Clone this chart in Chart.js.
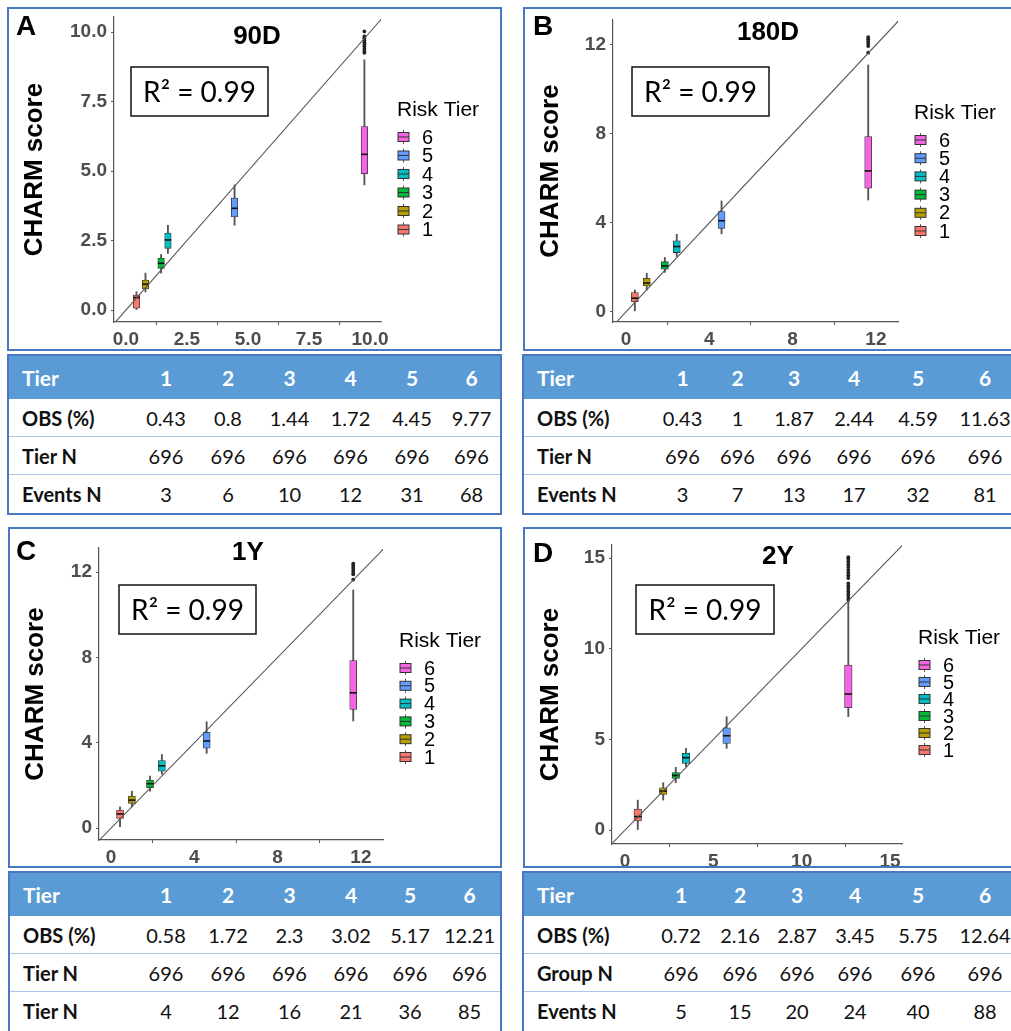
<!DOCTYPE html>
<html>
<head>
<meta charset="utf-8">
<script src="https://cdn.jsdelivr.net/npm/chart.js@4.4.1/dist/chart.umd.min.js"></script>
<style>
    html, body { margin: 0; padding: 0; background: #fff; }
    body { width: 1011px; height: 1031px; overflow: hidden; position: relative; }
    .box { position: absolute; border: 2px solid #4a76c6; box-sizing: border-box; background: #fff; overflow: hidden; }
    .box canvas { position: absolute; left: 0; top: 0; }
    table { border-collapse: collapse; table-layout: fixed; font-family: Lato, "Open Sans", sans-serif; font-size: 20px; color: #111; }
    th { background: #5b9bd5; color: #fff; font-weight: bold; font-size: 21px; height: 43px; padding: 0; text-align: center; }
    td { height: 37px; padding: 0; border-bottom: 1.5px solid #a9c7e8; text-align: center; }
    th:first-child, td:first-child { text-align: left; padding-left: 13px; font-weight: bold; }
    tr:last-child td { border-bottom: none; }
</style>
</head>
<body>

<div class="box" style="left:7px;top:7px;width:495px;height:344px"><canvas id="chartA" width="491" height="340"></canvas></div>
<div class="box" id="tableA" style="left:7px;top:354px;width:495px;height:161px"></div>
<div class="box" style="left:523px;top:7px;width:500px;height:344px"><canvas id="chartB" width="496" height="340"></canvas></div>
<div class="box" id="tableB" style="left:522px;top:354px;width:500px;height:161px"></div>
<div class="box" style="left:8px;top:527px;width:494px;height:341px"><canvas id="chartC" width="490" height="337"></canvas></div>
<div class="box" id="tableC" style="left:8px;top:871px;width:494px;height:170px"></div>
<div class="box" style="left:523px;top:527px;width:500px;height:341px"><canvas id="chartD" width="496" height="337"></canvas></div>
<div class="box" id="tableD" style="left:522px;top:871px;width:500px;height:170px"></div>

<script>
// ---- shared ----
const tiers = ['1', '2', '3', '4', '5', '6'];
const tierColors = ['#F8766D', '#B79F00', '#00BA38', '#00BFC4', '#619CFF', '#F564E3'];
const identityLine = [-1, 20]; // y = x reference line

// ---- 90D ----
const x90 = [0.43, 0.8, 1.44, 1.72, 4.45, 9.77];
const lo90 = [0.0, 0.65, 1.33, 2.04, 3.05, 4.5];
const q1_90 = [0.07, 0.76, 1.5, 2.22, 3.35, 4.9];
const med90 = [0.45, 0.93, 1.68, 2.52, 3.66, 5.6];
const q3_90 = [0.54, 1.08, 1.87, 2.77, 4.03, 6.6];
const hi90 = [0.66, 1.33, 2.0, 3.05, 4.5, 9.0];
const out90 = [9.25, 9.32, 9.4, 9.48, 9.55, 9.62, 9.7, 9.78, 9.84, 10.02];
const ticks90 = ['0.0', '2.5', '5.0', '7.5', '10.0'];

// ---- 180D ----
const x180 = [0.43, 1.0, 1.87, 2.44, 4.59, 11.63];
const lo180 = [0.05, 0.99, 1.78, 2.49, 3.51, 5.03];
const q1_180 = [0.46, 1.17, 1.92, 2.67, 3.76, 5.56];
const med180 = [0.62, 1.3, 2.07, 2.94, 4.1, 6.34];
const q3_180 = [0.87, 1.51, 2.26, 3.2, 4.51, 7.88];
const hi180 = [0.99, 1.74, 2.45, 3.49, 4.99, 11.1];
const out180 = [11.65, 11.95, 12.05, 12.15, 12.25, 12.35];
const ticks180 = ['0', '4', '8', '12'];

// ---- 1Y ----
const x1y = [0.43, 1.0, 1.87, 2.44, 4.59, 11.63];
const lo1y = [0.06, 1.0, 1.73, 2.52, 3.5, 5.02];
const q1_1y = [0.45, 1.16, 1.89, 2.67, 3.74, 5.56];
const med1y = [0.66, 1.31, 2.08, 2.92, 4.08, 6.34];
const q3_1y = [0.84, 1.5, 2.25, 3.16, 4.49, 7.85];
const hi1y = [1.0, 1.73, 2.44, 3.45, 4.98, 11.16];
const out1y = [11.65, 11.9, 12.0, 12.1, 12.2, 12.3, 12.4];
const ticks1y = ['0', '4', '8', '12'];

// ---- 2Y ----
const x2y = [0.72, 2.16, 2.87, 3.45, 5.75, 12.64];
const lo2y = [0.0, 1.65, 2.61, 3.49, 4.5, 6.25];
const q1_2y = [0.5, 1.96, 2.84, 3.68, 4.78, 6.75];
const med2y = [0.74, 2.15, 3.01, 3.99, 5.2, 7.5];
const q3_2y = [1.16, 2.33, 3.17, 4.23, 5.64, 9.1];
const hi2y = [1.65, 2.61, 3.46, 4.5, 6.25, 12.6];
const out2y = [12.7, 12.85, 13.0, 13.15, 13.3, 13.45, 13.6, 13.9, 14.05, 14.2, 14.35, 14.5, 14.65, 14.8, 14.95, 15.05];
const ticks2y = ['0', '5', '10', '15'];

// ---- tables ----
const obsA = ['0.43', '0.8', '1.44', '1.72', '4.45', '9.77'];
const nA = ['696', '696', '696', '696', '696', '696'];
const evA = ['3', '6', '10', '12', '31', '68'];
const rowsA = ['OBS (%)', 'Tier N', 'Events N'];

const obsB = ['0.43', '1', '1.87', '2.44', '4.59', '11.63'];
const nB = ['696', '696', '696', '696', '696', '696'];
const evB = ['3', '7', '13', '17', '32', '81'];
const rowsB = ['OBS (%)', 'Tier N', 'Events N'];

const obsC = ['0.58', '1.72', '2.3', '3.02', '5.17', '12.21'];
const nC = ['696', '696', '696', '696', '696', '696'];
const evC = ['4', '12', '16', '21', '36', '85'];
const rowsC = ['OBS (%)', 'Tier N', 'Tier N'];

const obsD = ['0.72', '2.16', '2.87', '3.45', '5.75', '12.64'];
const nD = ['696', '696', '696', '696', '696', '696'];
const evD = ['5', '15', '20', '24', '40', '88'];
const rowsD = ['OBS (%)', 'Group N', 'Events N'];

const FONT = '"Liberation Sans", Arial, sans-serif';

// Draws panel letter, title, R² box and the "Risk Tier" legend
const panelDecor = {
    id: 'panelDecor',
    afterDraw(chart, args, o) {
        const ctx = chart.ctx;
        const a = chart.chartArea;
        ctx.save();
        ctx.fillStyle = '#000';
        ctx.textBaseline = 'middle';

        ctx.textAlign = 'left';
        ctx.font = 'bold 28px ' + FONT;
        ctx.fillText(o.letter, o.letterPos[0], o.letterPos[1]);

        ctx.textAlign = 'center';
        ctx.font = 'bold 26px ' + FONT;
        ctx.fillText(o.title, o.titlePos[0], o.titlePos[1]);

        const [bx, by, bw, bh] = o.r2Box;
        ctx.strokeStyle = '#111';
        ctx.lineWidth = 1.5;
        ctx.strokeRect(bx, by, bw, bh);
        ctx.font = '28px Lato, "Open Sans", sans-serif';
        ctx.fillText('R\u00B2 = 0.99', bx + bw / 2, by + bh / 2 + 1);

        // legend
        const kx = a.right + 17;
        ctx.textAlign = 'left';
        ctx.font = '21px ' + FONT;
        ctx.fillText('Risk Tier', kx - 1, a.top + 93);
        ctx.font = '20px ' + FONT;
        for (let i = tiers.length - 1; i >= 0; i--) {
            const ky = a.top + 120 + (tiers.length - 1 - i) * o.legendStep;
            ctx.strokeStyle = '#555';
            ctx.lineWidth = 1;
            ctx.beginPath();
            ctx.moveTo(kx + 5.5, ky - 7);
            ctx.lineTo(kx + 5.5, ky + 7);
            ctx.stroke();
            ctx.fillStyle = tierColors[i];
            ctx.fillRect(kx, ky - 4.5, 11, 9);
            ctx.strokeStyle = '#333';
            ctx.strokeRect(kx, ky - 4.5, 11, 9);
            ctx.beginPath();
            ctx.moveTo(kx, ky);
            ctx.lineTo(kx + 11, ky);
            ctx.stroke();
            ctx.fillStyle = '#000';
            ctx.fillText(tiers[i], kx + 24, ky + 1);
        }
        ctx.restore();
    }
};

function makeChart(id, p) {
    const cv = document.getElementById(id);
    const cw = cv.width, ch = cv.height;
    const L = p.plot[0] - p.origin[0], R = p.plot[1] - p.origin[0];
    const T = p.plot[2] - p.origin[1], B = p.plot[3] - p.origin[1];
    const padL = 10;

    const whiskers = p.x.map((x, i) => ({ x: x, y: [p.lo[i], p.hi[i]] }));
    const boxes = p.x.map((x, i) => ({ x: x, y: [p.q1[i], p.q3[i]] }));
    const medians = p.x.map((x, i) => ({ x: x, y: p.med[i] }));
    const outliers = p.out.map(v => ({ x: p.x[5], y: v }));
    const diag = identityLine.map(v => ({ x: v, y: v }));

    const tickOpts = (labels) => ({
        font: { family: FONT, size: 19, weight: 'bold' },
        color: '#4d4d4d',
        padding: 3,
        callback: (v, i) => labels[i]
    });
    const axisGrid = { display: true, drawOnChartArea: false, drawTicks: true, tickLength: 3, color: '#555' };
    const setTicks = (labels) => (s) => { s.ticks = labels.map(t => ({ value: parseFloat(t) })); };

    return new Chart(cv.getContext('2d'), {
        type: 'bar',
        data: {
            datasets: [
                { type: 'line', data: diag, borderColor: '#555', borderWidth: 1.1, pointRadius: 0, order: 0 },
                { type: 'bar', data: whiskers, backgroundColor: '#555', borderWidth: 0, barThickness: 1.2, grouped: false, order: 4 },
                { type: 'bar', data: boxes, backgroundColor: tierColors, borderColor: '#333', borderWidth: 0.8,
                  borderSkipped: false, barThickness: p.boxWidth, grouped: false, order: 3 },
                { type: 'scatter', data: medians, pointStyle: 'line', pointRadius: p.boxWidth / 2,
                  pointBorderColor: '#111', pointBorderWidth: 1.6, order: 2 },
                { type: 'scatter', data: outliers, pointStyle: 'circle', pointRadius: 1.9,
                  pointBackgroundColor: '#222', pointBorderWidth: 0, order: 1 }
            ]
        },
        options: {
            responsive: false,
            animation: false,
            events: [],
            layout: { padding: { left: padL, top: T, right: cw - R, bottom: 0 } },
            plugins: {
                legend: { display: false },
                tooltip: { enabled: false },
                panelDecor: p.decor
            },
            scales: {
                x: {
                    type: 'linear',
                    min: p.xRange[0],
                    max: p.xRange[1],
                    offset: false,
                    grid: axisGrid,
                    border: { display: true, color: '#555', width: 1.2 },
                    ticks: tickOpts(p.ticks),
                    afterBuildTicks: setTicks(p.ticks),
                    afterFit: s => { s.height = ch - B; s.paddingLeft = 0; s.paddingRight = 0; }
                },
                y: {
                    type: 'linear',
                    min: p.yRange[0],
                    max: p.yRange[1],
                    grid: axisGrid,
                    border: { display: true, color: '#555', width: 1.2 },
                    ticks: Object.assign(tickOpts(p.ticks), { padding: 4 }),
                    afterBuildTicks: setTicks(p.ticks),
                    title: {
                        display: true,
                        text: 'CHARM score',
                        color: '#000',
                        padding: 0,
                        font: { family: FONT, size: 26, weight: 'bold' }
                    },
                    afterFit: s => { s.width = L - padL; s.paddingTop = 0; s.paddingBottom = 0; }
                }
            }
        },
        plugins: [panelDecor]
    });
}

makeChart('chartA', {
    origin: [9, 9], plot: [114, 381, 17, 322],
    xRange: [-0.49, 10.45], yRange: [-0.43, 10.54],
    x: x90, lo: lo90, q1: q1_90, med: med90, q3: q3_90, hi: hi90, out: out90, ticks: ticks90,
    boxWidth: 6.5,
    decor: { letter: 'A', letterPos: [7, 18], title: '90D', titlePos: [248, 28], r2Box: [122, 58, 137, 49], legendStep: 18.5 }
});
makeChart('chartB', {
    origin: [525, 9], plot: [613, 898, 20, 322],
    xRange: [-0.62, 13.06], yRange: [-0.45, 13.12],
    x: x180, lo: lo180, q1: q1_180, med: med180, q3: q3_180, hi: hi180, out: out180, ticks: ticks180,
    boxWidth: 7,
    decor: { letter: 'B', letterPos: [8, 18], title: '180D', titlePos: [243, 24], r2Box: [107, 58, 137, 49], legendStep: 18.2 }
});
makeChart('chartC', {
    origin: [10, 529], plot: [99, 383, 548, 840],
    xRange: [-0.58, 13.06], yRange: [-0.56, 13.13],
    x: x1y, lo: lo1y, q1: q1_1y, med: med1y, q3: q3_1y, hi: hi1y, out: out1y, ticks: ticks1y,
    boxWidth: 7,
    decor: { letter: 'C', letterPos: [6, 23], title: '1Y', titlePos: [238, 24], r2Box: [109, 56, 137, 49], legendStep: 17.8 }
});
makeChart('chartD', {
    origin: [525, 529], plot: [612, 902, 545, 844],
    xRange: [-0.74, 15.68], yRange: [-0.77, 15.72],
    x: x2y, lo: lo2y, q1: q1_2y, med: med2y, q3: q3_2y, hi: hi2y, out: out2y, ticks: ticks2y,
    boxWidth: 7.5,
    decor: { letter: 'D', letterPos: [8, 25], title: '2Y', titlePos: [253, 28], r2Box: [111, 56, 138, 49], legendStep: 17 }
});

// Build the summary tables under each plot
function makeTable(id, rowLabels, obs, n, ev, widths) {
    const cols = widths.map(w => '<col style="width:' + w + 'px">').join('');
    const head = '<tr><th>Tier</th>' + tiers.map(t => '<th>' + t + '</th>').join('') + '</tr>';
    const row = (label, vals) => '<tr><td>' + label + '</td>' + vals.map(v => '<td>' + v + '</td>').join('') + '</tr>';
    const total = widths.reduce((s, w) => s + w, 0);
    document.getElementById(id).innerHTML =
        '<table style="width:' + total + 'px"><colgroup>' + cols + '</colgroup>' + head +
        row(rowLabels[0], obs) + row(rowLabels[1], n) + row(rowLabels[2], ev) + '</table>';
}

makeTable('tableA', rowsA, obsA, nA, evA, [126, 62, 62, 61, 61, 62, 57]);
makeTable('tableB', rowsB, obsB, nB, evB, [131, 55, 55, 58, 62, 66, 68]);
makeTable('tableC', rowsC, obsC, nC, evC, [125, 62, 62, 61, 62, 56, 63]);
makeTable('tableD', rowsD, obsD, nD, evD, [131, 52, 66, 48, 68, 58, 76]);
</script>
</body>
</html>
